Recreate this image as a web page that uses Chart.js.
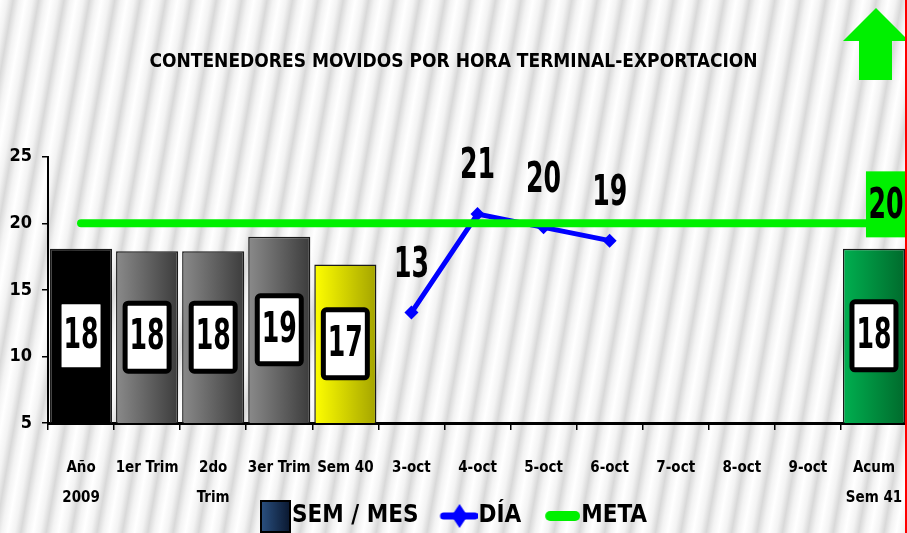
<!DOCTYPE html>
<html>
<head>
<meta charset="utf-8">
<script src="https://cdn.jsdelivr.net/npm/chart.js@4.4.1/dist/chart.umd.min.js"></script>
<style>
    html, body { margin: 0; padding: 0; }
    body {
        width: 907px; height: 533px; overflow: hidden;
        background: repeating-linear-gradient(100deg, #ffffff 0px, #f3f3f3 7px, #d9d9d9 13px, #f3f3f3 19px, #ffffff 25px);
    }
    #wrap { position: relative; width: 907px; height: 533px; }
</style>
</head>
<body>
<div id="wrap"><canvas id="chart"></canvas></div>
<script>
// Données du graphique
const chartTitle = 'CONTENEDORES MOVIDOS POR HORA TERMINAL-EXPORTACION';
const categories = [['Año', '2009'], '1er Trim', ['2do', 'Trim'], '3er Trim', 'Sem 40',
    '3-oct', '4-oct', '5-oct', '6-oct', '7-oct', '8-oct', '9-oct', ['Acum', 'Sem 41']];
const seriesNames = ['SEM / MES', 'DÍA', 'META'];
const semMesValues = [18.1, 17.9, 17.9, 19.0, 16.9, null, null, null, null, null, null, null, 18.1];
const diaValues = [null, null, null, null, null, 13.3, 20.7, 19.7, 18.7, null, null, null, null];
const metaValues = [20, 20, 20, 20, 20, 20, 20, 20, 20, 20, 20, 20, 20];
const yTickValues = [5, 10, 15, 20, 25];

const FONT = '"Liberation Sans Narrow", "Arial Narrow", "DejaVu Sans Condensed", sans-serif';

// Pas de marge automatique autour de la zone du graphique pour les lignes
Chart.LineController.prototype.getMaxOverflow = function () { return 0; };

// Couleurs des barres (dégradé gauche -> droite)
const barColors = [
    ['#000000', '#000000'],
    ['#8a8a8a', '#3c3c3c'],
    ['#8a8a8a', '#3c3c3c'],
    ['#8a8a8a', '#3c3c3c'],
    ['#ffff00', '#a4a400'],
    null, null, null, null, null, null, null,
    ['#00b050', '#006a2c']
];

function barGradient(context) {
    const chart = context.chart;
    const pair = barColors[context.dataIndex];
    if (!pair) return 'transparent';
    if (!chart.chartArea) return pair[0];
    const x = chart.scales.x.getPixelForValue(context.dataIndex);
    const g = chart.ctx.createLinearGradient(x - 31, 0, x + 31, 0);
    g.addColorStop(0, pair[0]);
    g.addColorStop(1, pair[1]);
    return g;
}

// Icônes de légende
function makeIcon(draw) {
    const c = document.createElement('canvas');
    c.width = 62;
    c.height = 36;
    draw(c.getContext('2d'));
    return c;
}

const legendIcons = [
    makeIcon(ctx => {
        const g = ctx.createLinearGradient(32, 0, 61, 0);
        g.addColorStop(0, '#2a5080');
        g.addColorStop(1, '#0a1830');
        ctx.fillStyle = g;
        ctx.fillRect(32, 3, 29, 31);
        ctx.strokeStyle = '#000';
        ctx.lineWidth = 2;
        ctx.strokeRect(32, 3, 29, 31);
    }),
    makeIcon(ctx => {
        ctx.strokeStyle = '#0000ff';
        ctx.lineWidth = 7;
        ctx.lineCap = 'round';
        ctx.beginPath();
        ctx.moveTo(28, 18);
        ctx.lineTo(59, 18);
        ctx.stroke();
        ctx.fillStyle = '#0000ff';
        ctx.beginPath();
        ctx.moveTo(44, 6);
        ctx.lineTo(52, 18);
        ctx.lineTo(44, 30);
        ctx.lineTo(36, 18);
        ctx.closePath();
        ctx.fill();
    }),
    makeIcon(ctx => {
        ctx.strokeStyle = '#00f000';
        ctx.lineWidth = 10;
        ctx.lineCap = 'round';
        ctx.beginPath();
        ctx.moveTo(32, 18);
        ctx.lineTo(57, 18);
        ctx.stroke();
    })
];

// Texte étiré verticalement (comme l'original)
function drawTall(ctx, text, x, y, size, stretch) {
    ctx.save();
    ctx.translate(x, y);
    ctx.scale(1, stretch);
    ctx.font = `bold ${size}px ${FONT}`;
    ctx.textAlign = 'center';
    ctx.textBaseline = 'middle';
    ctx.fillStyle = '#000';
    ctx.fillText(text, 0, 0);
    ctx.restore();
}

function roundRect(ctx, x, y, w, h, r) {
    ctx.beginPath();
    ctx.moveTo(x + r, y);
    ctx.arcTo(x + w, y, x + w, y + h, r);
    ctx.arcTo(x + w, y + h, x, y + h, r);
    ctx.arcTo(x, y + h, x, y, r);
    ctx.arcTo(x, y, x + w, y, r);
    ctx.closePath();
}

// Étiquettes de valeurs + décor
const valueLabels = {
    id: 'valueLabels',
    afterLayout(chart) {
        // la légende chevauche la 2e ligne des étiquettes de l'axe x
        const lg = chart.legend;
        if (lg) {
            lg.top -= 17;
            lg.bottom = chart.height;
            lg.left -= 10;
            lg.right -= 10;
        }
    },
    afterDatasetsDraw(chart) {
        const ctx = chart.ctx;
        const bottom = chart.chartArea.bottom;

        chart.getDatasetMeta(0).data.forEach((bar, i) => {
            const v = semMesValues[i];
            if (v == null) return;
            const cy = (bar.y + Math.min(bar.base, bottom)) / 2;
            roundRect(ctx, bar.x - 22, cy - 34, 44, 68, 3);
            ctx.fillStyle = '#fff';
            ctx.fill();
            ctx.lineWidth = 5;
            ctx.strokeStyle = '#000';
            ctx.stroke();
            drawTall(ctx, String(Math.round(v)), bar.x, cy + 1, 28, 1.5);
        });

        chart.getDatasetMeta(1).data.forEach((pt, i) => {
            const v = diaValues[i];
            if (v == null) return;
            drawTall(ctx, String(Math.round(v)), pt.x, pt.y - 47, 28, 1.55);
        });

        const metaPts = chart.getDatasetMeta(2).data;
        const last = metaPts[metaPts.length - 1];
        ctx.fillStyle = '#00f000';
        ctx.fillRect(last.x - 8, last.y - 52, 41, 66);
        drawTall(ctx, String(Math.round(metaValues[metaValues.length - 1])), last.x + 12, last.y - 17, 28, 1.55);
    },
    afterDraw(chart) {
        const ctx = chart.ctx;
        // flèche verte
        ctx.fillStyle = '#00f000';
        ctx.beginPath();
        ctx.moveTo(876, 8);
        ctx.lineTo(909, 41);
        ctx.lineTo(892, 41);
        ctx.lineTo(892, 80);
        ctx.lineTo(859, 80);
        ctx.lineTo(859, 41);
        ctx.lineTo(843, 41);
        ctx.closePath();
        ctx.fill();
        // trait rouge à droite
        ctx.strokeStyle = '#ff0000';
        ctx.lineWidth = 2;
        ctx.beginPath();
        ctx.moveTo(906, 0);
        ctx.lineTo(906, 533);
        ctx.stroke();
    }
};

new Chart(document.getElementById('chart'), {
    data: {
        labels: categories,
        datasets: [{
            type: 'bar',
            label: seriesNames[0],
            data: semMesValues,
            backgroundColor: barGradient,
            borderColor: '#1a1a1a',
            borderWidth: 1.5,
            barPercentage: 0.94,
            categoryPercentage: 1,
            order: 3
        }, {
            type: 'line',
            label: seriesNames[1],
            data: diaValues,
            borderColor: '#0000ff',
            backgroundColor: '#0000ff',
            borderWidth: 5,
            pointStyle: 'rectRot',
            pointRadius: 7,
            pointBorderWidth: 0,
            order: 2
        }, {
            type: 'line',
            label: seriesNames[2],
            data: metaValues,
            borderColor: '#00f000',
            borderWidth: 8,
            borderCapStyle: 'round',
            pointRadius: 0,
            order: 1
        }]
    },
    options: {
        responsive: true,
        maintainAspectRatio: false,
        animation: false,
        layout: {
            padding: { left: 0, right: 0, top: 0, bottom: 0 }
        },
        plugins: {
            tooltip: { enabled: false },
            title: {
                display: true,
                text: chartTitle,
                color: '#000',
                font: { family: FONT, weight: 'bold', size: 19 },
                padding: { top: 51, bottom: 83 }
            },
            legend: {
                position: 'bottom',
                maxHeight: 20,
                labels: {
                    usePointStyle: true,
                    pointStyleWidth: 40,
                    padding: 8,
                    color: '#000',
                    font: { family: FONT, weight: 'bold', size: 24 },
                    generateLabels(chart) {
                        const items = Chart.defaults.plugins.legend.labels.generateLabels(chart);
                        items.forEach(it => { it.pointStyle = legendIcons[it.datasetIndex]; });
                        items.sort((a, b) => a.datasetIndex - b.datasetIndex);
                        return items;
                    }
                }
            }
        },
        scales: {
            x: {
                offset: true,
                afterFit: s => {
                    s.height = 90;
                    s.paddingLeft = 0;
                    s.paddingRight = 0;
                },
                border: { color: '#000', width: 3 },
                grid: { drawOnChartArea: false, tickLength: 7, color: '#000', lineWidth: 1.5, offset: true },
                ticks: {
                    color: '#000',
                    font: { family: FONT, weight: 'bold', size: 15, lineHeight: 2 },
                    padding: 23,
                    maxRotation: 0,
                    autoSkip: false
                }
            },
            y: {
                min: 5,
                max: 25,
                afterBuildTicks: s => { s.ticks = yTickValues.map(v => ({ value: v })); },
                afterFit: s => { s.width = 48; },
                border: { color: '#000', width: 2 },
                grid: { drawOnChartArea: false, tickLength: 6, color: '#000', lineWidth: 1.5 },
                ticks: {
                    color: '#000',
                    font: { family: FONT, weight: 'bold', size: 18 },
                    padding: 10
                }
            }
        }
    },
    plugins: [valueLabels]
});
</script>
</body>
</html>
